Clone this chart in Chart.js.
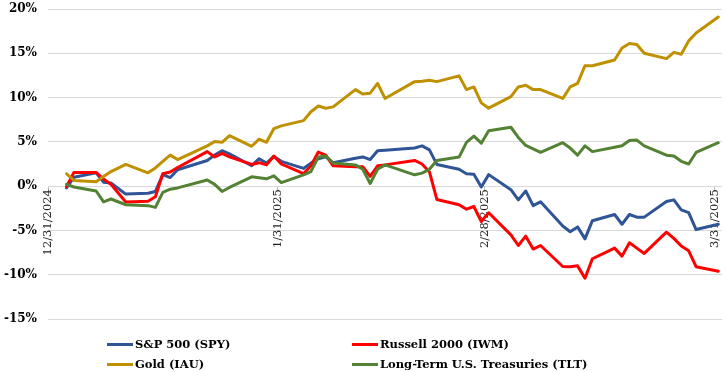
<!DOCTYPE html>
<html><head><meta charset="utf-8">
<script src="https://cdn.jsdelivr.net/npm/chart.js@4"></script>
<style>
html,body{margin:0;padding:0;background:#fff;}
#wrap{position:relative;width:727px;height:372px;overflow:hidden;}
#legend{position:absolute;left:107px;top:334px;display:grid;grid-template-columns:245px auto;font:bold 11.5px 'DejaVu Serif';color:#000;}
.item{display:flex;align-items:center;height:20px;white-space:nowrap;}
.sw{display:inline-block;width:26px;height:3px;margin-right:2px;}
</style></head>
<body><div id="wrap"><canvas id="c" width="727" height="372"></canvas><div id="legend"></div></div>
<script>
const dates=['2025-01-02','2025-01-03','2025-01-06','2025-01-07','2025-01-08','2025-01-10','2025-01-13','2025-01-14','2025-01-15','2025-01-16','2025-01-17','2025-01-21','2025-01-22','2025-01-23','2025-01-24','2025-01-27','2025-01-28','2025-01-29','2025-01-30','2025-01-31',
'2025-02-03','2025-02-04','2025-02-05','2025-02-06','2025-02-07','2025-02-10','2025-02-11','2025-02-12','2025-02-13','2025-02-14','2025-02-18','2025-02-19','2025-02-20','2025-02-21','2025-02-24','2025-02-25','2025-02-26','2025-02-27','2025-02-28',
'2025-03-03','2025-03-04','2025-03-05','2025-03-06','2025-03-07','2025-03-10','2025-03-11','2025-03-12','2025-03-13','2025-03-14','2025-03-17','2025-03-18','2025-03-19','2025-03-20','2025-03-21','2025-03-24','2025-03-25','2025-03-26','2025-03-27','2025-03-28','2025-03-31'];
const tickLabels=['12/31/2024','1/31/2025','2/28/2025','3/31/2025'];
const seriesNames=['S&P 500 (SPY)','Russell 2000 (IWM)','Gold (IAU)','Long-Term U.S. Treasuries (TLT)'];
const seriesColors=['#2F5597','#FF0000','#BF9000','#548235'];
const spy=[-0.2,1.0,1.5,0.45,0.35,-0.9,-0.8,-0.6,1.3,0.97,1.85,2.9,3.5,4.0,3.65,2.3,3.1,2.6,3.35,2.8,
2.0,2.6,3.1,3.3,2.65,3.15,3.3,3.0,4.0,4.05,4.3,4.55,4.1,2.45,1.9,1.4,1.35,-0.1,1.3,
-0.4,-1.55,-0.55,-2.2,-1.77,-4.5,-5.15,-4.6,-5.95,-3.9,-3.2,-4.3,-3.2,-3.5,-3.5,-1.74,-1.55,-2.67,-2.98,-4.9,-4.3];
const iwm=[-0.05,1.55,1.55,0.8,0.2,-1.8,-1.7,-1.2,1.4,1.6,2.1,3.9,3.3,3.7,3.3,2.45,2.65,2.4,3.4,2.5,
1.4,2.3,3.85,3.5,2.3,2.2,2.2,1.1,2.3,2.4,2.9,2.5,1.6,-1.5,-2.1,-2.6,-2.3,-4.0,-3.0,
-5.5,-6.7,-5.65,-7.1,-6.7,-9.07,-9.1,-9.0,-10.4,-8.2,-7.0,-7.9,-6.4,-7.0,-7.6,-5.2,-5.9,-6.75,-7.3,-9.1,-9.6];
const gold=[1.4,0.65,0.5,1.1,1.65,2.45,1.5,2.05,2.8,3.5,3.0,4.55,5.05,4.95,5.7,4.5,5.3,4.95,6.5,6.8,
7.4,8.4,9.05,8.8,8.95,10.9,10.4,10.5,11.6,9.9,11.8,11.85,11.95,11.8,12.45,10.9,11.2,9.4,8.8,
10.1,11.2,11.4,10.9,10.9,9.9,11.2,11.6,13.6,13.6,14.25,15.6,16.1,16.0,15.0,14.4,15.1,14.9,16.4,17.3,19.1];
const tlt=[0.2,-0.1,-0.55,-1.77,-1.45,-2.1,-2.2,-2.4,-0.7,-0.34,-0.2,0.7,0.2,-0.6,-0.15,1.05,0.95,0.83,1.16,0.4,
1.28,1.65,3.3,3.4,2.6,2.4,1.9,0.3,1.9,2.4,1.28,1.47,1.9,2.9,3.28,4.95,5.65,4.85,6.25,
6.65,5.5,4.6,4.2,3.82,4.9,4.3,3.5,4.55,3.9,4.4,4.55,5.15,5.2,4.55,3.5,3.4,2.8,2.5,3.8,4.9];
const yMin=-15, yMax=20, yStep=5;

const DAY=86400000;
function parseMDY(s){const [m,d,y]=s.split('/').map(Number);return Date.UTC(y,m-1,d);}
function parseISO(s){const [y,m,d]=s.split('-').map(Number);return Date.UTC(y,m-1,d);}
const base=parseMDY(tickLabels[0]);
const tickDays=tickLabels.map(t=>Math.round((parseMDY(t)-base)/DAY));
const lastDay=tickDays[tickDays.length-1];
// each day occupies one slot; points sit in the middle of their day's slot
const xs=dates.map(d=>Math.round((parseISO(d)-base)/DAY)+0.5);
const seriesData=[spy,iwm,gold,tlt];

const datasets=seriesData.map((arr,i)=>({
  label:seriesNames[i],
  data:arr.map((v,j)=>({x:xs[j],y:v})),
  borderColor:seriesColors[i],
  backgroundColor:seriesColors[i],
  borderWidth:3,
  pointRadius:0,
  tension:0,
  borderJoinStyle:'round',
  borderCapStyle:'round',
  order:seriesData.length-i,
  fill:false
}));

new Chart(document.getElementById('c'),{
  type:'line',
  data:{datasets},
  options:{
    responsive:false,
    animation:false,
    devicePixelRatio:1,
    layout:{padding:{top:9,right:5,bottom:53,left:0}},
    plugins:{legend:{display:false},tooltip:{enabled:false}},
    scales:{
      x:{
        type:'linear',
        position:{y:0},
        min:0,
        max:lastDay+1,
        afterBuildTicks:s=>{s.ticks=tickDays.map(v=>({value:v}));},
        ticks:{
          autoSkip:false,minRotation:90,maxRotation:90,padding:-2,
          color:'#222',font:{family:'DejaVu Serif',size:11.5},
          callback:(v)=>{const k=tickDays.indexOf(v);return k>=0?tickLabels[k]:'';}
        },
        grid:{drawOnChartArea:false,drawTicks:true,tickLength:5,color:'#bfbfbf'},
        border:{display:false}
      },
      y:{
        min:yMin,max:yMax,
        afterFit:s=>{s.width=48;},
        ticks:{stepSize:yStep,padding:0,color:'#000',
          font:{family:'DejaVu Serif',size:12,weight:'bold'},
          callback:v=>v+'%'},
        grid:{color:'#d9d9d9',lineWidth:1,drawTicks:true,tickLength:11,tickColor:'rgba(0,0,0,0)'},
        border:{display:false}
      }
    }
  }
});

const lg=document.getElementById('legend');
seriesNames.forEach((n,i)=>{
  const it=document.createElement('div');it.className='item';
  const sw=document.createElement('span');sw.className='sw';sw.style.background=seriesColors[i];
  const tx=document.createElement('span');tx.textContent=n;
  it.appendChild(sw);it.appendChild(tx);lg.appendChild(it);
});
</script>
</body></html>
